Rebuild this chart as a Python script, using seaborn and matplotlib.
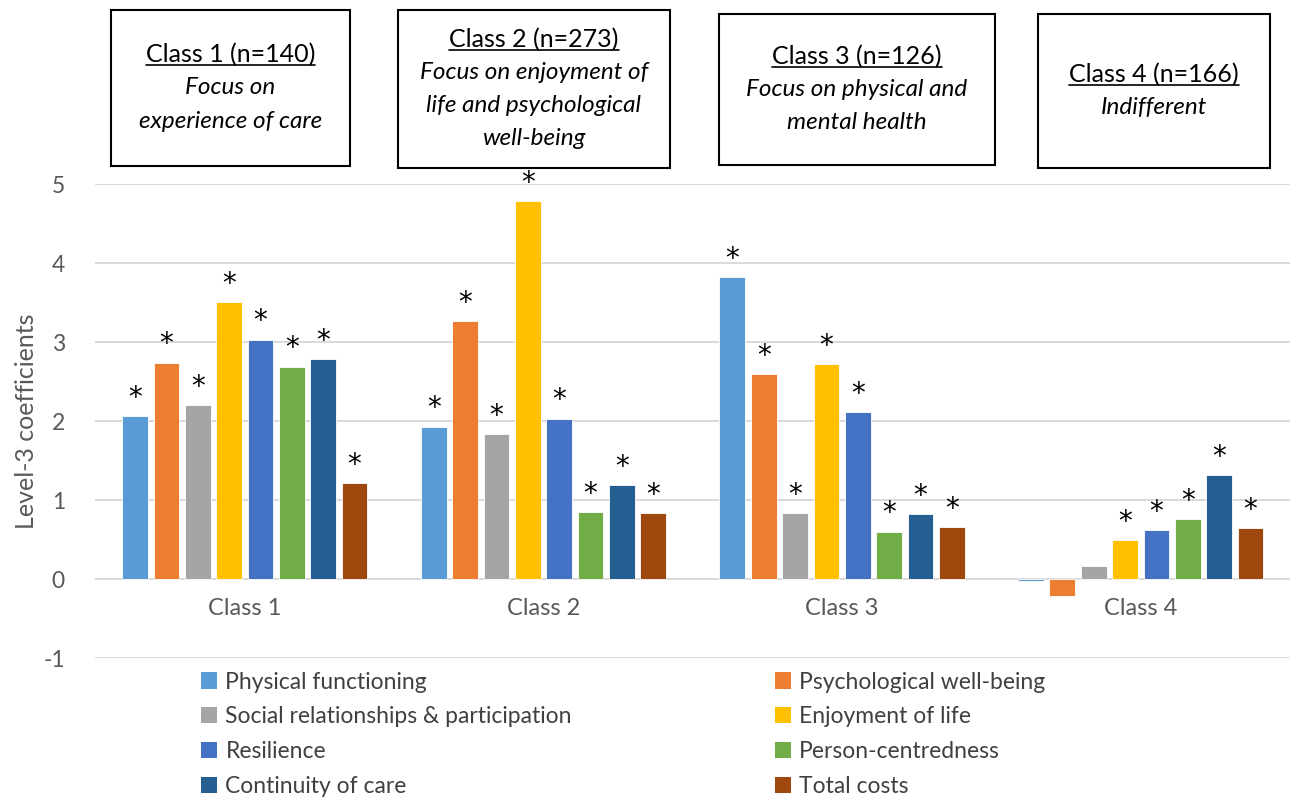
import numpy as np
import pandas as pd
import seaborn as sns
import matplotlib.pyplot as plt
from matplotlib.patches import Patch, Rectangle
from matplotlib.lines import Line2D

classes = ["Class 1", "Class 2", "Class 3", "Class 4"]
attributes = ["Physical functioning", "Psychological well-being",
              "Social relationships & participation", "Enjoyment of life",
              "Resilience", "Person-centredness", "Continuity of care", "Total costs"]
colors = ["#5B9BD5", "#ED7D31", "#A5A5A5", "#FFC000",
          "#4472C4", "#70AD47", "#255E91", "#9E480E"]

# coefficients per attribute, one value per class
physical = [2.06, 1.93, 3.82, -0.02]
psychological = [2.74, 3.27, 2.59, -0.22]
social = [2.20, 1.83, 0.84, 0.16]
enjoyment = [3.51, 4.78, 2.72, 0.49]
resilience = [3.03, 2.03, 2.11, 0.62]
person_centred = [2.69, 0.85, 0.60, 0.76]
continuity = [2.78, 1.19, 0.82, 1.32]
costs = [1.21, 0.84, 0.66, 0.65]

# significance flags (same layout)
sig_physical = [1, 1, 1, 0]
sig_psychological = [1, 1, 1, 0]
sig_social = [1, 1, 1, 0]
sig_enjoyment = [1, 1, 1, 1]
sig_resilience = [1, 1, 1, 1]
sig_person_centred = [1, 1, 1, 1]
sig_continuity = [1, 1, 1, 1]
sig_costs = [1, 1, 1, 1]

box_titles = ["Class 1 (n=140)", "Class 2 (n=273)", "Class 3 (n=126)", "Class 4 (n=166)"]
box_texts = [["Focus on", "experience of care"],
             ["Focus on enjoyment of", "life and psychological", "well-being"],
             ["Focus on physical and", "mental health"],
             ["Indifferent"]]

values = [physical, psychological, social, enjoyment, resilience, person_centred, continuity, costs]
sigs = [sig_physical, sig_psychological, sig_social, sig_enjoyment,
        sig_resilience, sig_person_centred, sig_continuity, sig_costs]

rows = []
for a, vals in zip(attributes, values):
    for c, v in zip(classes, vals):
        rows.append({"cls": c, "attr": a, "val": v})
df = pd.DataFrame(rows)

sns.set_theme(style="white")
plt.rcParams['font.family'] = ['Lato', 'DejaVu Sans']
plt.rcParams['axes.unicode_minus'] = False

fig = plt.figure(figsize=(12.9, 7.98), dpi=100)
ax = fig.add_axes([0.074, 0.1754, 0.926, 0.594])

sns.barplot(data=df, x="cls", y="val", hue="attr", hue_order=attributes,
            palette=colors, saturation=1, width=0.84, gap=0.18, edgecolor="white",
            linewidth=0.6, ax=ax)

ax.set_ylim(-1, 5)
ax.set_xlim(-0.5, 3.5)
ax.set_yticks(range(-1, 6))
ax.yaxis.grid(True, color="#D9D9D9", linewidth=1.4)
ax.set_axisbelow(True)
for s in ax.spines.values():
    s.set_visible(False)
ax.spines['bottom'].set_position(('data', 0))
ax.tick_params(axis='x', length=0, pad=14, labelsize=17, labelcolor="#595959")
ax.tick_params(axis='y', length=0, pad=22, labelsize=16.5, labelcolor="#595959")
ax.set_xlabel("")
ax.set_ylabel("Level-3 coefficients", fontsize=18, color="#595959", labelpad=4)

# stars above significant bars
for cont, flags in zip(ax.containers, sigs):
    for bar, f in zip(cont, flags):
        if f:
            x = bar.get_x() + bar.get_width() / 2
            top = bar.get_y() + bar.get_height()
            ax.annotate("*", (x, top), xytext=(0, 3), textcoords="offset points",
                        ha="center", va="bottom", fontsize=20, color="black",
                        family="DejaVu Sans")

# legend, row-wise order
ax.get_legend().remove()
handles = [Patch(facecolor=c, edgecolor="none") for c in colors]
order = [0, 2, 4, 6, 1, 3, 5, 7]
fig.legend([handles[i] for i in order], [attributes[i] for i in order],
           ncol=2, loc="upper left", bbox_to_anchor=(0.149, 0.170),
           frameon=False, fontsize=16.5, labelcolor="#404040",
           handlelength=0.7, handleheight=0.7, handletextpad=0.35,
           columnspacing=8.85, labelspacing=0.6, borderaxespad=0)

# boxes on top
boxes = [(111, 10, 350, 166), (398, 10, 670, 168), (719, 14, 995, 165), (1038, 14, 1270, 168)]
W, H = 1290, 798
title_objs = []
for (x0, y0, x1, y1), title, lines in zip(boxes, box_titles, box_texts):
    fig.patches.append(Rectangle((x0 / W, 1 - y1 / H), (x1 - x0) / W, (y1 - y0) / H,
                                 transform=fig.transFigure, fill=False,
                                 edgecolor="black", linewidth=1.5))
    n = len(lines) + 1
    step = 33
    yc = (y0 + y1) / 2
    ys = [yc - step * (n - 1) / 2 + k * step for k in range(n)]
    xc = (x0 + x1) / 2 / W
    t = fig.text(xc, 1 - ys[0] / H, title, ha="center", va="center",
                 fontsize=18, color="black")
    title_objs.append(t)
    for ln, yy in zip(lines, ys[1:]):
        fig.text(xc, 1 - yy / H, ln, ha="center", va="center",
                 fontsize=17.5, style="italic", color="black")

# underline titles
fig.canvas.draw()
renderer = fig.canvas.get_renderer()
for t in title_objs:
    bb = t.get_window_extent(renderer).transformed(fig.transFigure.inverted())
    yline = bb.y0 + 0.002
    fig.add_artist(Line2D([bb.x0, bb.x1], [yline, yline], transform=fig.transFigure,
                          color="black", linewidth=1.2))

fig.savefig("out.png", dpi=100)
